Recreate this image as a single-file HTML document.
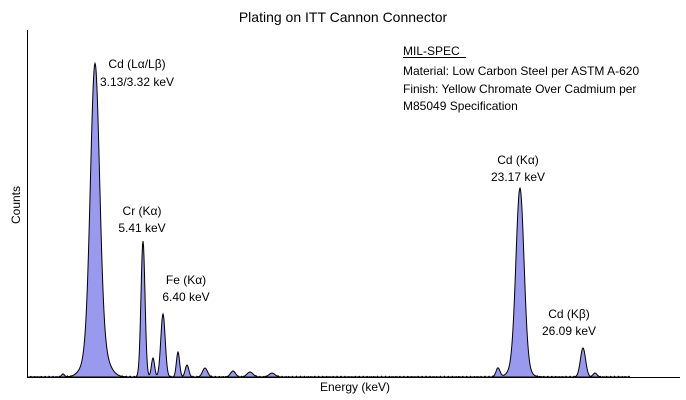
<!DOCTYPE html>
<html><head><style>
body{margin:0;background:#fff;}
svg{display:block;font-family:"Liberation Sans",Arial,sans-serif;}
</style></head><body>
<svg id="s" width="686" height="400" viewBox="0 0 686 400">
<rect width="686" height="400" fill="#fff"/>
<text x="343" y="22" font-size="14" text-anchor="middle">Plating on ITT Cannon Connector</text>
<path id="p" fill="#9999ee" stroke="#000" stroke-width="1" d=""/>
<line x1="27.5" y1="30" x2="27.5" y2="377.5" stroke="#000"/>
<line x1="27" y1="377.5" x2="680" y2="377.5" stroke="#000"/>
<text x="20" y="205" font-size="12" text-anchor="middle" transform="rotate(-90 20 205)">Counts</text>
<text x="355" y="391" font-size="12" text-anchor="middle">Energy (keV)</text>
<g font-size="12" text-anchor="middle">
<text x="137" y="68">Cd (Lα/Lβ)</text><text x="137" y="86">3.13/3.32 keV</text>
<text x="142" y="215">Cr (Kα)</text><text x="142" y="232">5.41 keV</text>
<text x="186" y="284">Fe (Kα)</text><text x="186" y="301">6.40 keV</text>
<text x="518" y="164">Cd (Kα)</text><text x="518" y="181">23.17 keV</text>
<text x="569" y="318">Cd (Kβ)</text><text x="569" y="335">26.09 keV</text>
</g>
<g font-size="12">
<text x="403" y="55">MIL-SPEC</text>
<line x1="403" y1="57.5" x2="466" y2="57.5" stroke="#000"/>
<text x="403" y="75">Material: Low Carbon Steel per ASTM A-620</text>
<text x="403" y="93">Finish: Yellow Chromate Over Cadmium per</text>
<text x="403" y="110">M85049 Specification</text>
</g>
</svg>
<script>
var peaks=[[95,272,4.5],[96,42,9],[143,136,2],[153,19,1.6],[163,63,2.2],[178,25,1.6],[187,12,1.8],[205,9,2.5],[233,6,2.5],[250,5,3],[272,4,3],[63,3,1.5],
[498,9,2],[520,172,4],[519,17,7],[583,29,2.6],[595,4,2]];
var d="M28,377";
for(var x=28;x<=630;x+=0.5){var y=0;for(var i=0;i<peaks.length;i++){var p=peaks[i],t=(x-p[0])/p[2];y+=p[1]*Math.exp(-t*t/2);}
var n=(Math.sin(x*1.7)+Math.sin(x*3.1))*0.4;if(y<1)y+=Math.max(0,n);
d+=" L"+x+","+(377-y).toFixed(1);}
d+=" L630,377 Z";
document.getElementById("p").setAttribute("d",d);
</script>
</body></html>
